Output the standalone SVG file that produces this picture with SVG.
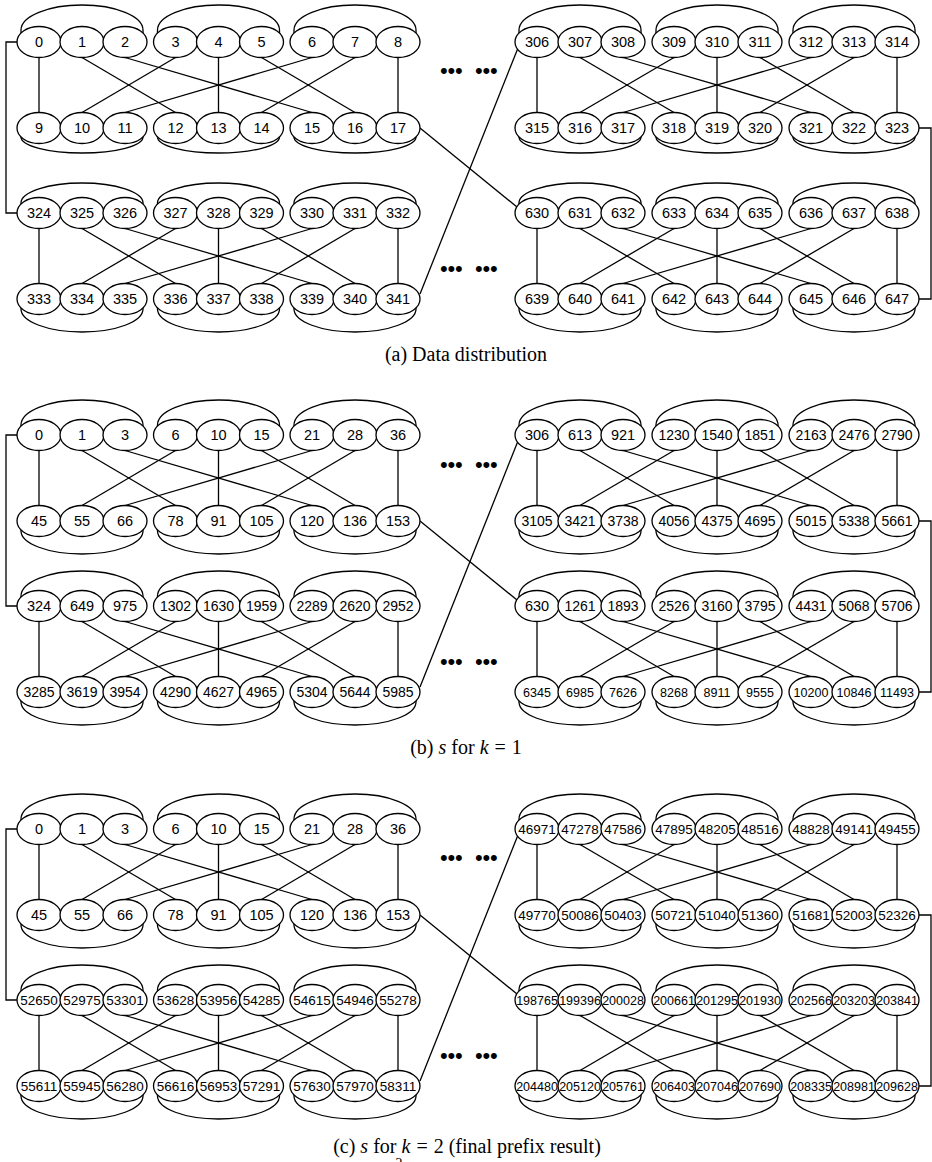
<svg xmlns="http://www.w3.org/2000/svg" xmlns:xlink="http://www.w3.org/1999/xlink" width="932" height="1162" viewBox="0 0 932 1162">
<style>
ellipse{fill:#fff;stroke:#000;stroke-width:1.3}
line,path{fill:none;stroke:#000;stroke-width:1.3}
text{font-family:"Liberation Sans",Arial,sans-serif;font-size:14.5px;text-anchor:middle;fill:#000}
.t4{font-size:14px}
.t5{font-size:13.5px}
.t6{font-size:12.5px}
.t7{font-size:12.5px}
.cap{font-family:"Liberation Serif","Times New Roman",serif;font-size:20px}
.dots{font-size:22px;text-anchor:start;letter-spacing:-0.2px}
</style>
<defs>
<g id="lnL">
<line x1="39" y1="15.5" x2="39" y2="70.5"/>
<line x1="82" y1="15.5" x2="175.5" y2="70.5"/>
<line x1="125" y1="15.5" x2="312" y2="70.5"/>
<line x1="175.5" y1="15.5" x2="82" y2="70.5"/>
<line x1="218.5" y1="15.5" x2="218.5" y2="70.5"/>
<line x1="261.5" y1="15.5" x2="355" y2="70.5"/>
<line x1="312" y1="15.5" x2="125" y2="70.5"/>
<line x1="355" y1="15.5" x2="261.5" y2="70.5"/>
<line x1="398" y1="15.5" x2="398" y2="70.5"/>
</g>
<g id="lnR">
<line x1="537" y1="15.5" x2="537" y2="70.5"/>
<line x1="580" y1="15.5" x2="674" y2="70.5"/>
<line x1="623" y1="15.5" x2="811" y2="70.5"/>
<line x1="674" y1="15.5" x2="580" y2="70.5"/>
<line x1="717" y1="15.5" x2="717" y2="70.5"/>
<line x1="760" y1="15.5" x2="854" y2="70.5"/>
<line x1="811" y1="15.5" x2="623" y2="70.5"/>
<line x1="854" y1="15.5" x2="760" y2="70.5"/>
<line x1="897" y1="15.5" x2="897" y2="70.5"/>
</g>
<g id="arT">
<path d="M21,-4V-10A61,25 0 0 1 143,-10V-4"/>
<path d="M157.5,-4V-10A61,25 0 0 1 279.5,-10V-4"/>
<path d="M294,-4V-10A61,25 0 0 1 416,-10V-4"/>
<path d="M519,-4V-10A61,25 0 0 1 641,-10V-4"/>
<path d="M656,-4V-10A61,25 0 0 1 778,-10V-4"/>
<path d="M793,-4V-10A61,25 0 0 1 915,-10V-4"/>
</g>
<g id="arT2">
<path d="M21,-4V-10A61,20 0 0 1 143,-10V-4"/>
<path d="M157.5,-4V-10A61,20 0 0 1 279.5,-10V-4"/>
<path d="M294,-4V-10A61,20 0 0 1 416,-10V-4"/>
<path d="M519,-4V-10A61,20 0 0 1 641,-10V-4"/>
<path d="M656,-4V-10A61,20 0 0 1 778,-10V-4"/>
<path d="M793,-4V-10A61,20 0 0 1 915,-10V-4"/>
</g>
<g id="arB">
<path d="M21,4V10A61,23 0 0 0 143,10V4"/>
<path d="M157.5,4V10A61,23 0 0 0 279.5,10V4"/>
<path d="M294,4V10A61,23 0 0 0 416,10V4"/>
<path d="M519,4V10A61,23 0 0 0 641,10V4"/>
<path d="M656,4V10A61,23 0 0 0 778,10V4"/>
<path d="M793,4V10A61,23 0 0 0 915,10V4"/>
</g>
<g id="arB2">
<path d="M21,4V9A61,16 0 0 0 143,9V4"/>
<path d="M157.5,4V9A61,16 0 0 0 279.5,9V4"/>
<path d="M294,4V9A61,16 0 0 0 416,9V4"/>
<path d="M519,4V9A61,16 0 0 0 641,9V4"/>
<path d="M656,4V9A61,16 0 0 0 778,9V4"/>
<path d="M793,4V9A61,16 0 0 0 915,9V4"/>
</g>
</defs>
<rect width="932" height="1162" fill="#fff"/>
<g id="connectors">
<use xlink:href="#arT" y="40"/><use xlink:href="#arB2" y="128"/><use xlink:href="#arT2" y="213"/><use xlink:href="#arB" y="299"/>
<use xlink:href="#lnL" y="42"/><use xlink:href="#lnL" y="213"/><use xlink:href="#lnR" y="42"/><use xlink:href="#lnR" y="213"/>
<path d="M17,42H6V213H17"/><path d="M919,128H931V299H919"/>
<line x1="420" y1="128" x2="517" y2="207"/><line x1="420" y1="294" x2="518" y2="48"/>
<use xlink:href="#arT" y="435"/><use xlink:href="#arB" y="521"/><use xlink:href="#arT" y="606"/><use xlink:href="#arB" y="692"/>
<use xlink:href="#lnL" y="435"/><use xlink:href="#lnL" y="606"/><use xlink:href="#lnR" y="435"/><use xlink:href="#lnR" y="606"/>
<path d="M17,435H6V606H17"/><path d="M919,521H931V692H919"/>
<line x1="420" y1="521" x2="517" y2="600"/><line x1="420" y1="687" x2="518" y2="441"/>
<use xlink:href="#arT" y="829"/><use xlink:href="#arB" y="915"/><use xlink:href="#arT" y="1000"/><use xlink:href="#arB" y="1086"/>
<use xlink:href="#lnL" y="829"/><use xlink:href="#lnL" y="1000"/><use xlink:href="#lnR" y="829"/><use xlink:href="#lnR" y="1000"/>
<path d="M17,829H6V1000H17"/><path d="M919,915H931V1086H919"/>
<line x1="420" y1="915" x2="517" y2="994"/><line x1="420" y1="1081" x2="518" y2="835"/>
</g>
<g id="panel-a">
<g id="a_0"><ellipse cx="39" cy="42" rx="22" ry="15.5"/><text x="39" y="47">0</text></g>
<g id="a_1"><ellipse cx="82" cy="42" rx="22" ry="15.5"/><text x="82" y="47">1</text></g>
<g id="a_2"><ellipse cx="125" cy="42" rx="22" ry="15.5"/><text x="125" y="47">2</text></g>
<g id="a_3"><ellipse cx="175.5" cy="42" rx="22" ry="15.5"/><text x="175.5" y="47">3</text></g>
<g id="a_4"><ellipse cx="218.5" cy="42" rx="22" ry="15.5"/><text x="218.5" y="47">4</text></g>
<g id="a_5"><ellipse cx="261.5" cy="42" rx="22" ry="15.5"/><text x="261.5" y="47">5</text></g>
<g id="a_6"><ellipse cx="312" cy="42" rx="22" ry="15.5"/><text x="312" y="47">6</text></g>
<g id="a_7"><ellipse cx="355" cy="42" rx="22" ry="15.5"/><text x="355" y="47">7</text></g>
<g id="a_8"><ellipse cx="398" cy="42" rx="22" ry="15.5"/><text x="398" y="47">8</text></g>
<g id="a_9"><ellipse cx="39" cy="128" rx="22" ry="15.5"/><text x="39" y="133">9</text></g>
<g id="a_10"><ellipse cx="82" cy="128" rx="22" ry="15.5"/><text x="82" y="133">10</text></g>
<g id="a_11"><ellipse cx="125" cy="128" rx="22" ry="15.5"/><text x="125" y="133">11</text></g>
<g id="a_12"><ellipse cx="175.5" cy="128" rx="22" ry="15.5"/><text x="175.5" y="133">12</text></g>
<g id="a_13"><ellipse cx="218.5" cy="128" rx="22" ry="15.5"/><text x="218.5" y="133">13</text></g>
<g id="a_14"><ellipse cx="261.5" cy="128" rx="22" ry="15.5"/><text x="261.5" y="133">14</text></g>
<g id="a_15"><ellipse cx="312" cy="128" rx="22" ry="15.5"/><text x="312" y="133">15</text></g>
<g id="a_16"><ellipse cx="355" cy="128" rx="22" ry="15.5"/><text x="355" y="133">16</text></g>
<g id="a_17"><ellipse cx="398" cy="128" rx="22" ry="15.5"/><text x="398" y="133">17</text></g>
<g id="a_324"><ellipse cx="39" cy="213" rx="22" ry="15.5"/><text x="39" y="218">324</text></g>
<g id="a_325"><ellipse cx="82" cy="213" rx="22" ry="15.5"/><text x="82" y="218">325</text></g>
<g id="a_326"><ellipse cx="125" cy="213" rx="22" ry="15.5"/><text x="125" y="218">326</text></g>
<g id="a_327"><ellipse cx="175.5" cy="213" rx="22" ry="15.5"/><text x="175.5" y="218">327</text></g>
<g id="a_328"><ellipse cx="218.5" cy="213" rx="22" ry="15.5"/><text x="218.5" y="218">328</text></g>
<g id="a_329"><ellipse cx="261.5" cy="213" rx="22" ry="15.5"/><text x="261.5" y="218">329</text></g>
<g id="a_330"><ellipse cx="312" cy="213" rx="22" ry="15.5"/><text x="312" y="218">330</text></g>
<g id="a_331"><ellipse cx="355" cy="213" rx="22" ry="15.5"/><text x="355" y="218">331</text></g>
<g id="a_332"><ellipse cx="398" cy="213" rx="22" ry="15.5"/><text x="398" y="218">332</text></g>
<g id="a_333"><ellipse cx="39" cy="299" rx="22" ry="15.5"/><text x="39" y="304">333</text></g>
<g id="a_334"><ellipse cx="82" cy="299" rx="22" ry="15.5"/><text x="82" y="304">334</text></g>
<g id="a_335"><ellipse cx="125" cy="299" rx="22" ry="15.5"/><text x="125" y="304">335</text></g>
<g id="a_336"><ellipse cx="175.5" cy="299" rx="22" ry="15.5"/><text x="175.5" y="304">336</text></g>
<g id="a_337"><ellipse cx="218.5" cy="299" rx="22" ry="15.5"/><text x="218.5" y="304">337</text></g>
<g id="a_338"><ellipse cx="261.5" cy="299" rx="22" ry="15.5"/><text x="261.5" y="304">338</text></g>
<g id="a_339"><ellipse cx="312" cy="299" rx="22" ry="15.5"/><text x="312" y="304">339</text></g>
<g id="a_340"><ellipse cx="355" cy="299" rx="22" ry="15.5"/><text x="355" y="304">340</text></g>
<g id="a_341"><ellipse cx="398" cy="299" rx="22" ry="15.5"/><text x="398" y="304">341</text></g>
<g id="a_306"><ellipse cx="537" cy="42" rx="22" ry="15.5"/><text x="537" y="47">306</text></g>
<g id="a_307"><ellipse cx="580" cy="42" rx="22" ry="15.5"/><text x="580" y="47">307</text></g>
<g id="a_308"><ellipse cx="623" cy="42" rx="22" ry="15.5"/><text x="623" y="47">308</text></g>
<g id="a_309"><ellipse cx="674" cy="42" rx="22" ry="15.5"/><text x="674" y="47">309</text></g>
<g id="a_310"><ellipse cx="717" cy="42" rx="22" ry="15.5"/><text x="717" y="47">310</text></g>
<g id="a_311"><ellipse cx="760" cy="42" rx="22" ry="15.5"/><text x="760" y="47">311</text></g>
<g id="a_312"><ellipse cx="811" cy="42" rx="22" ry="15.5"/><text x="811" y="47">312</text></g>
<g id="a_313"><ellipse cx="854" cy="42" rx="22" ry="15.5"/><text x="854" y="47">313</text></g>
<g id="a_314"><ellipse cx="897" cy="42" rx="22" ry="15.5"/><text x="897" y="47">314</text></g>
<g id="a_315"><ellipse cx="537" cy="128" rx="22" ry="15.5"/><text x="537" y="133">315</text></g>
<g id="a_316"><ellipse cx="580" cy="128" rx="22" ry="15.5"/><text x="580" y="133">316</text></g>
<g id="a_317"><ellipse cx="623" cy="128" rx="22" ry="15.5"/><text x="623" y="133">317</text></g>
<g id="a_318"><ellipse cx="674" cy="128" rx="22" ry="15.5"/><text x="674" y="133">318</text></g>
<g id="a_319"><ellipse cx="717" cy="128" rx="22" ry="15.5"/><text x="717" y="133">319</text></g>
<g id="a_320"><ellipse cx="760" cy="128" rx="22" ry="15.5"/><text x="760" y="133">320</text></g>
<g id="a_321"><ellipse cx="811" cy="128" rx="22" ry="15.5"/><text x="811" y="133">321</text></g>
<g id="a_322"><ellipse cx="854" cy="128" rx="22" ry="15.5"/><text x="854" y="133">322</text></g>
<g id="a_323"><ellipse cx="897" cy="128" rx="22" ry="15.5"/><text x="897" y="133">323</text></g>
<g id="a_630"><ellipse cx="537" cy="213" rx="22" ry="15.5"/><text x="537" y="218">630</text></g>
<g id="a_631"><ellipse cx="580" cy="213" rx="22" ry="15.5"/><text x="580" y="218">631</text></g>
<g id="a_632"><ellipse cx="623" cy="213" rx="22" ry="15.5"/><text x="623" y="218">632</text></g>
<g id="a_633"><ellipse cx="674" cy="213" rx="22" ry="15.5"/><text x="674" y="218">633</text></g>
<g id="a_634"><ellipse cx="717" cy="213" rx="22" ry="15.5"/><text x="717" y="218">634</text></g>
<g id="a_635"><ellipse cx="760" cy="213" rx="22" ry="15.5"/><text x="760" y="218">635</text></g>
<g id="a_636"><ellipse cx="811" cy="213" rx="22" ry="15.5"/><text x="811" y="218">636</text></g>
<g id="a_637"><ellipse cx="854" cy="213" rx="22" ry="15.5"/><text x="854" y="218">637</text></g>
<g id="a_638"><ellipse cx="897" cy="213" rx="22" ry="15.5"/><text x="897" y="218">638</text></g>
<g id="a_639"><ellipse cx="537" cy="299" rx="22" ry="15.5"/><text x="537" y="304">639</text></g>
<g id="a_640"><ellipse cx="580" cy="299" rx="22" ry="15.5"/><text x="580" y="304">640</text></g>
<g id="a_641"><ellipse cx="623" cy="299" rx="22" ry="15.5"/><text x="623" y="304">641</text></g>
<g id="a_642"><ellipse cx="674" cy="299" rx="22" ry="15.5"/><text x="674" y="304">642</text></g>
<g id="a_643"><ellipse cx="717" cy="299" rx="22" ry="15.5"/><text x="717" y="304">643</text></g>
<g id="a_644"><ellipse cx="760" cy="299" rx="22" ry="15.5"/><text x="760" y="304">644</text></g>
<g id="a_645"><ellipse cx="811" cy="299" rx="22" ry="15.5"/><text x="811" y="304">645</text></g>
<g id="a_646"><ellipse cx="854" cy="299" rx="22" ry="15.5"/><text x="854" y="304">646</text></g>
<g id="a_647"><ellipse cx="897" cy="299" rx="22" ry="15.5"/><text x="897" y="304">647</text></g>
<text class="dots" x="440" y="78">•••</text><text class="dots" x="475" y="78">•••</text>
<text class="dots" x="440" y="276">•••</text><text class="dots" x="475" y="276">•••</text>
<text class="cap" x="466" y="361">(a) Data distribution</text>
</g>
<g id="panel-b">
<g id="b_0"><ellipse cx="39" cy="435" rx="22" ry="15.5"/><text x="39" y="440">0</text></g>
<g id="b_1"><ellipse cx="82" cy="435" rx="22" ry="15.5"/><text x="82" y="440">1</text></g>
<g id="b_3"><ellipse cx="125" cy="435" rx="22" ry="15.5"/><text x="125" y="440">3</text></g>
<g id="b_6"><ellipse cx="175.5" cy="435" rx="22" ry="15.5"/><text x="175.5" y="440">6</text></g>
<g id="b_10"><ellipse cx="218.5" cy="435" rx="22" ry="15.5"/><text x="218.5" y="440">10</text></g>
<g id="b_15"><ellipse cx="261.5" cy="435" rx="22" ry="15.5"/><text x="261.5" y="440">15</text></g>
<g id="b_21"><ellipse cx="312" cy="435" rx="22" ry="15.5"/><text x="312" y="440">21</text></g>
<g id="b_28"><ellipse cx="355" cy="435" rx="22" ry="15.5"/><text x="355" y="440">28</text></g>
<g id="b_36"><ellipse cx="398" cy="435" rx="22" ry="15.5"/><text x="398" y="440">36</text></g>
<g id="b_45"><ellipse cx="39" cy="521" rx="22" ry="15.5"/><text x="39" y="526">45</text></g>
<g id="b_55"><ellipse cx="82" cy="521" rx="22" ry="15.5"/><text x="82" y="526">55</text></g>
<g id="b_66"><ellipse cx="125" cy="521" rx="22" ry="15.5"/><text x="125" y="526">66</text></g>
<g id="b_78"><ellipse cx="175.5" cy="521" rx="22" ry="15.5"/><text x="175.5" y="526">78</text></g>
<g id="b_91"><ellipse cx="218.5" cy="521" rx="22" ry="15.5"/><text x="218.5" y="526">91</text></g>
<g id="b_105"><ellipse cx="261.5" cy="521" rx="22" ry="15.5"/><text x="261.5" y="526">105</text></g>
<g id="b_120"><ellipse cx="312" cy="521" rx="22" ry="15.5"/><text x="312" y="526">120</text></g>
<g id="b_136"><ellipse cx="355" cy="521" rx="22" ry="15.5"/><text x="355" y="526">136</text></g>
<g id="b_153"><ellipse cx="398" cy="521" rx="22" ry="15.5"/><text x="398" y="526">153</text></g>
<g id="b_324"><ellipse cx="39" cy="606" rx="22" ry="15.5"/><text x="39" y="611">324</text></g>
<g id="b_649"><ellipse cx="82" cy="606" rx="22" ry="15.5"/><text x="82" y="611">649</text></g>
<g id="b_975"><ellipse cx="125" cy="606" rx="22" ry="15.5"/><text x="125" y="611">975</text></g>
<g id="b_1302"><ellipse cx="175.5" cy="606" rx="22" ry="15.5"/><text class="t4" x="175.5" y="611">1302</text></g>
<g id="b_1630"><ellipse cx="218.5" cy="606" rx="22" ry="15.5"/><text class="t4" x="218.5" y="611">1630</text></g>
<g id="b_1959"><ellipse cx="261.5" cy="606" rx="22" ry="15.5"/><text class="t4" x="261.5" y="611">1959</text></g>
<g id="b_2289"><ellipse cx="312" cy="606" rx="22" ry="15.5"/><text class="t4" x="312" y="611">2289</text></g>
<g id="b_2620"><ellipse cx="355" cy="606" rx="22" ry="15.5"/><text class="t4" x="355" y="611">2620</text></g>
<g id="b_2952"><ellipse cx="398" cy="606" rx="22" ry="15.5"/><text class="t4" x="398" y="611">2952</text></g>
<g id="b_3285"><ellipse cx="39" cy="692" rx="22" ry="15.5"/><text class="t4" x="39" y="697">3285</text></g>
<g id="b_3619"><ellipse cx="82" cy="692" rx="22" ry="15.5"/><text class="t4" x="82" y="697">3619</text></g>
<g id="b_3954"><ellipse cx="125" cy="692" rx="22" ry="15.5"/><text class="t4" x="125" y="697">3954</text></g>
<g id="b_4290"><ellipse cx="175.5" cy="692" rx="22" ry="15.5"/><text class="t4" x="175.5" y="697">4290</text></g>
<g id="b_4627"><ellipse cx="218.5" cy="692" rx="22" ry="15.5"/><text class="t4" x="218.5" y="697">4627</text></g>
<g id="b_4965"><ellipse cx="261.5" cy="692" rx="22" ry="15.5"/><text class="t4" x="261.5" y="697">4965</text></g>
<g id="b_5304"><ellipse cx="312" cy="692" rx="22" ry="15.5"/><text class="t4" x="312" y="697">5304</text></g>
<g id="b_5644"><ellipse cx="355" cy="692" rx="22" ry="15.5"/><text class="t4" x="355" y="697">5644</text></g>
<g id="b_5985"><ellipse cx="398" cy="692" rx="22" ry="15.5"/><text class="t4" x="398" y="697">5985</text></g>
<g id="b_306"><ellipse cx="537" cy="435" rx="22" ry="15.5"/><text x="537" y="440">306</text></g>
<g id="b_613"><ellipse cx="580" cy="435" rx="22" ry="15.5"/><text x="580" y="440">613</text></g>
<g id="b_921"><ellipse cx="623" cy="435" rx="22" ry="15.5"/><text x="623" y="440">921</text></g>
<g id="b_1230"><ellipse cx="674" cy="435" rx="22" ry="15.5"/><text class="t4" x="674" y="440">1230</text></g>
<g id="b_1540"><ellipse cx="717" cy="435" rx="22" ry="15.5"/><text class="t4" x="717" y="440">1540</text></g>
<g id="b_1851"><ellipse cx="760" cy="435" rx="22" ry="15.5"/><text class="t4" x="760" y="440">1851</text></g>
<g id="b_2163"><ellipse cx="811" cy="435" rx="22" ry="15.5"/><text class="t4" x="811" y="440">2163</text></g>
<g id="b_2476"><ellipse cx="854" cy="435" rx="22" ry="15.5"/><text class="t4" x="854" y="440">2476</text></g>
<g id="b_2790"><ellipse cx="897" cy="435" rx="22" ry="15.5"/><text class="t4" x="897" y="440">2790</text></g>
<g id="b_3105"><ellipse cx="537" cy="521" rx="22" ry="15.5"/><text class="t4" x="537" y="526">3105</text></g>
<g id="b_3421"><ellipse cx="580" cy="521" rx="22" ry="15.5"/><text class="t4" x="580" y="526">3421</text></g>
<g id="b_3738"><ellipse cx="623" cy="521" rx="22" ry="15.5"/><text class="t4" x="623" y="526">3738</text></g>
<g id="b_4056"><ellipse cx="674" cy="521" rx="22" ry="15.5"/><text class="t4" x="674" y="526">4056</text></g>
<g id="b_4375"><ellipse cx="717" cy="521" rx="22" ry="15.5"/><text class="t4" x="717" y="526">4375</text></g>
<g id="b_4695"><ellipse cx="760" cy="521" rx="22" ry="15.5"/><text class="t4" x="760" y="526">4695</text></g>
<g id="b_5015"><ellipse cx="811" cy="521" rx="22" ry="15.5"/><text class="t4" x="811" y="526">5015</text></g>
<g id="b_5338"><ellipse cx="854" cy="521" rx="22" ry="15.5"/><text class="t4" x="854" y="526">5338</text></g>
<g id="b_5661"><ellipse cx="897" cy="521" rx="22" ry="15.5"/><text class="t4" x="897" y="526">5661</text></g>
<g id="b_630"><ellipse cx="537" cy="606" rx="22" ry="15.5"/><text x="537" y="611">630</text></g>
<g id="b_1261"><ellipse cx="580" cy="606" rx="22" ry="15.5"/><text class="t4" x="580" y="611">1261</text></g>
<g id="b_1893"><ellipse cx="623" cy="606" rx="22" ry="15.5"/><text class="t4" x="623" y="611">1893</text></g>
<g id="b_2526"><ellipse cx="674" cy="606" rx="22" ry="15.5"/><text class="t4" x="674" y="611">2526</text></g>
<g id="b_3160"><ellipse cx="717" cy="606" rx="22" ry="15.5"/><text class="t4" x="717" y="611">3160</text></g>
<g id="b_3795"><ellipse cx="760" cy="606" rx="22" ry="15.5"/><text class="t4" x="760" y="611">3795</text></g>
<g id="b_4431"><ellipse cx="811" cy="606" rx="22" ry="15.5"/><text class="t4" x="811" y="611">4431</text></g>
<g id="b_5068"><ellipse cx="854" cy="606" rx="22" ry="15.5"/><text class="t4" x="854" y="611">5068</text></g>
<g id="b_5706"><ellipse cx="897" cy="606" rx="22" ry="15.5"/><text class="t4" x="897" y="611">5706</text></g>
<g id="b_6345"><ellipse cx="537" cy="692" rx="22" ry="15.5"/><text class="t6" x="537" y="696.5">6345</text></g>
<g id="b_6985"><ellipse cx="580" cy="692" rx="22" ry="15.5"/><text class="t6" x="580" y="696.5">6985</text></g>
<g id="b_7626"><ellipse cx="623" cy="692" rx="22" ry="15.5"/><text class="t6" x="623" y="696.5">7626</text></g>
<g id="b_8268"><ellipse cx="674" cy="692" rx="22" ry="15.5"/><text class="t6" x="674" y="696.5">8268</text></g>
<g id="b_8911"><ellipse cx="717" cy="692" rx="22" ry="15.5"/><text class="t6" x="717" y="696.5">8911</text></g>
<g id="b_9555"><ellipse cx="760" cy="692" rx="22" ry="15.5"/><text class="t6" x="760" y="696.5">9555</text></g>
<g id="b_10200"><ellipse cx="811" cy="692" rx="22" ry="15.5"/><text class="t6" x="811" y="696.5">10200</text></g>
<g id="b_10846"><ellipse cx="854" cy="692" rx="22" ry="15.5"/><text class="t6" x="854" y="696.5">10846</text></g>
<g id="b_11493"><ellipse cx="897" cy="692" rx="22" ry="15.5"/><text class="t6" x="897" y="696.5">11493</text></g>
<text class="dots" x="440" y="472">•••</text><text class="dots" x="475" y="472">•••</text>
<text class="dots" x="440" y="669">•••</text><text class="dots" x="475" y="669">•••</text>
<text class="cap" x="466" y="754">(b) <tspan font-style="italic">s</tspan> for <tspan font-style="italic">k</tspan><tspan dx="6">=</tspan><tspan dx="6">1</tspan></text>
</g>
<g id="panel-c">
<g id="c_0"><ellipse cx="39" cy="829" rx="22" ry="15.5"/><text x="39" y="834">0</text></g>
<g id="c_1"><ellipse cx="82" cy="829" rx="22" ry="15.5"/><text x="82" y="834">1</text></g>
<g id="c_3"><ellipse cx="125" cy="829" rx="22" ry="15.5"/><text x="125" y="834">3</text></g>
<g id="c_6"><ellipse cx="175.5" cy="829" rx="22" ry="15.5"/><text x="175.5" y="834">6</text></g>
<g id="c_10"><ellipse cx="218.5" cy="829" rx="22" ry="15.5"/><text x="218.5" y="834">10</text></g>
<g id="c_15"><ellipse cx="261.5" cy="829" rx="22" ry="15.5"/><text x="261.5" y="834">15</text></g>
<g id="c_21"><ellipse cx="312" cy="829" rx="22" ry="15.5"/><text x="312" y="834">21</text></g>
<g id="c_28"><ellipse cx="355" cy="829" rx="22" ry="15.5"/><text x="355" y="834">28</text></g>
<g id="c_36"><ellipse cx="398" cy="829" rx="22" ry="15.5"/><text x="398" y="834">36</text></g>
<g id="c_45"><ellipse cx="39" cy="915" rx="22" ry="15.5"/><text x="39" y="920">45</text></g>
<g id="c_55"><ellipse cx="82" cy="915" rx="22" ry="15.5"/><text x="82" y="920">55</text></g>
<g id="c_66"><ellipse cx="125" cy="915" rx="22" ry="15.5"/><text x="125" y="920">66</text></g>
<g id="c_78"><ellipse cx="175.5" cy="915" rx="22" ry="15.5"/><text x="175.5" y="920">78</text></g>
<g id="c_91"><ellipse cx="218.5" cy="915" rx="22" ry="15.5"/><text x="218.5" y="920">91</text></g>
<g id="c_105"><ellipse cx="261.5" cy="915" rx="22" ry="15.5"/><text x="261.5" y="920">105</text></g>
<g id="c_120"><ellipse cx="312" cy="915" rx="22" ry="15.5"/><text x="312" y="920">120</text></g>
<g id="c_136"><ellipse cx="355" cy="915" rx="22" ry="15.5"/><text x="355" y="920">136</text></g>
<g id="c_153"><ellipse cx="398" cy="915" rx="22" ry="15.5"/><text x="398" y="920">153</text></g>
<g id="c_52650"><ellipse cx="39" cy="1000" rx="22" ry="15.5"/><text class="t5" x="39" y="1005">52650</text></g>
<g id="c_52975"><ellipse cx="82" cy="1000" rx="22" ry="15.5"/><text class="t5" x="82" y="1005">52975</text></g>
<g id="c_53301"><ellipse cx="125" cy="1000" rx="22" ry="15.5"/><text class="t5" x="125" y="1005">53301</text></g>
<g id="c_53628"><ellipse cx="175.5" cy="1000" rx="22" ry="15.5"/><text class="t5" x="175.5" y="1005">53628</text></g>
<g id="c_53956"><ellipse cx="218.5" cy="1000" rx="22" ry="15.5"/><text class="t5" x="218.5" y="1005">53956</text></g>
<g id="c_54285"><ellipse cx="261.5" cy="1000" rx="22" ry="15.5"/><text class="t5" x="261.5" y="1005">54285</text></g>
<g id="c_54615"><ellipse cx="312" cy="1000" rx="22" ry="15.5"/><text class="t5" x="312" y="1005">54615</text></g>
<g id="c_54946"><ellipse cx="355" cy="1000" rx="22" ry="15.5"/><text class="t5" x="355" y="1005">54946</text></g>
<g id="c_55278"><ellipse cx="398" cy="1000" rx="22" ry="15.5"/><text class="t5" x="398" y="1005">55278</text></g>
<g id="c_55611"><ellipse cx="39" cy="1086" rx="22" ry="15.5"/><text class="t5" x="39" y="1091">55611</text></g>
<g id="c_55945"><ellipse cx="82" cy="1086" rx="22" ry="15.5"/><text class="t5" x="82" y="1091">55945</text></g>
<g id="c_56280"><ellipse cx="125" cy="1086" rx="22" ry="15.5"/><text class="t5" x="125" y="1091">56280</text></g>
<g id="c_56616"><ellipse cx="175.5" cy="1086" rx="22" ry="15.5"/><text class="t5" x="175.5" y="1091">56616</text></g>
<g id="c_56953"><ellipse cx="218.5" cy="1086" rx="22" ry="15.5"/><text class="t5" x="218.5" y="1091">56953</text></g>
<g id="c_57291"><ellipse cx="261.5" cy="1086" rx="22" ry="15.5"/><text class="t5" x="261.5" y="1091">57291</text></g>
<g id="c_57630"><ellipse cx="312" cy="1086" rx="22" ry="15.5"/><text class="t5" x="312" y="1091">57630</text></g>
<g id="c_57970"><ellipse cx="355" cy="1086" rx="22" ry="15.5"/><text class="t5" x="355" y="1091">57970</text></g>
<g id="c_58311"><ellipse cx="398" cy="1086" rx="22" ry="15.5"/><text class="t5" x="398" y="1091">58311</text></g>
<g id="c_46971"><ellipse cx="537" cy="829" rx="22" ry="15.5"/><text class="t5" x="537" y="834">46971</text></g>
<g id="c_47278"><ellipse cx="580" cy="829" rx="22" ry="15.5"/><text class="t5" x="580" y="834">47278</text></g>
<g id="c_47586"><ellipse cx="623" cy="829" rx="22" ry="15.5"/><text class="t5" x="623" y="834">47586</text></g>
<g id="c_47895"><ellipse cx="674" cy="829" rx="22" ry="15.5"/><text class="t5" x="674" y="834">47895</text></g>
<g id="c_48205"><ellipse cx="717" cy="829" rx="22" ry="15.5"/><text class="t5" x="717" y="834">48205</text></g>
<g id="c_48516"><ellipse cx="760" cy="829" rx="22" ry="15.5"/><text class="t5" x="760" y="834">48516</text></g>
<g id="c_48828"><ellipse cx="811" cy="829" rx="22" ry="15.5"/><text class="t5" x="811" y="834">48828</text></g>
<g id="c_49141"><ellipse cx="854" cy="829" rx="22" ry="15.5"/><text class="t5" x="854" y="834">49141</text></g>
<g id="c_49455"><ellipse cx="897" cy="829" rx="22" ry="15.5"/><text class="t5" x="897" y="834">49455</text></g>
<g id="c_49770"><ellipse cx="537" cy="915" rx="22" ry="15.5"/><text class="t5" x="537" y="920">49770</text></g>
<g id="c_50086"><ellipse cx="580" cy="915" rx="22" ry="15.5"/><text class="t5" x="580" y="920">50086</text></g>
<g id="c_50403"><ellipse cx="623" cy="915" rx="22" ry="15.5"/><text class="t5" x="623" y="920">50403</text></g>
<g id="c_50721"><ellipse cx="674" cy="915" rx="22" ry="15.5"/><text class="t5" x="674" y="920">50721</text></g>
<g id="c_51040"><ellipse cx="717" cy="915" rx="22" ry="15.5"/><text class="t5" x="717" y="920">51040</text></g>
<g id="c_51360"><ellipse cx="760" cy="915" rx="22" ry="15.5"/><text class="t5" x="760" y="920">51360</text></g>
<g id="c_51681"><ellipse cx="811" cy="915" rx="22" ry="15.5"/><text class="t5" x="811" y="920">51681</text></g>
<g id="c_52003"><ellipse cx="854" cy="915" rx="22" ry="15.5"/><text class="t5" x="854" y="920">52003</text></g>
<g id="c_52326"><ellipse cx="897" cy="915" rx="22" ry="15.5"/><text class="t5" x="897" y="920">52326</text></g>
<g id="c_198765"><ellipse cx="537" cy="1000" rx="22" ry="15.5"/><text class="t7" x="537" y="1004.5">198765</text></g>
<g id="c_199396"><ellipse cx="580" cy="1000" rx="22" ry="15.5"/><text class="t7" x="580" y="1004.5">199396</text></g>
<g id="c_200028"><ellipse cx="623" cy="1000" rx="22" ry="15.5"/><text class="t7" x="623" y="1004.5">200028</text></g>
<g id="c_200661"><ellipse cx="674" cy="1000" rx="22" ry="15.5"/><text class="t7" x="674" y="1004.5">200661</text></g>
<g id="c_201295"><ellipse cx="717" cy="1000" rx="22" ry="15.5"/><text class="t7" x="717" y="1004.5">201295</text></g>
<g id="c_201930"><ellipse cx="760" cy="1000" rx="22" ry="15.5"/><text class="t7" x="760" y="1004.5">201930</text></g>
<g id="c_202566"><ellipse cx="811" cy="1000" rx="22" ry="15.5"/><text class="t7" x="811" y="1004.5">202566</text></g>
<g id="c_203203"><ellipse cx="854" cy="1000" rx="22" ry="15.5"/><text class="t7" x="854" y="1004.5">203203</text></g>
<g id="c_203841"><ellipse cx="897" cy="1000" rx="22" ry="15.5"/><text class="t7" x="897" y="1004.5">203841</text></g>
<g id="c_204480"><ellipse cx="537" cy="1086" rx="22" ry="15.5"/><text class="t7" x="537" y="1090.5">204480</text></g>
<g id="c_205120"><ellipse cx="580" cy="1086" rx="22" ry="15.5"/><text class="t7" x="580" y="1090.5">205120</text></g>
<g id="c_205761"><ellipse cx="623" cy="1086" rx="22" ry="15.5"/><text class="t7" x="623" y="1090.5">205761</text></g>
<g id="c_206403"><ellipse cx="674" cy="1086" rx="22" ry="15.5"/><text class="t7" x="674" y="1090.5">206403</text></g>
<g id="c_207046"><ellipse cx="717" cy="1086" rx="22" ry="15.5"/><text class="t7" x="717" y="1090.5">207046</text></g>
<g id="c_207690"><ellipse cx="760" cy="1086" rx="22" ry="15.5"/><text class="t7" x="760" y="1090.5">207690</text></g>
<g id="c_208335"><ellipse cx="811" cy="1086" rx="22" ry="15.5"/><text class="t7" x="811" y="1090.5">208335</text></g>
<g id="c_208981"><ellipse cx="854" cy="1086" rx="22" ry="15.5"/><text class="t7" x="854" y="1090.5">208981</text></g>
<g id="c_209628"><ellipse cx="897" cy="1086" rx="22" ry="15.5"/><text class="t7" x="897" y="1090.5">209628</text></g>
<text class="dots" x="440" y="865">•••</text><text class="dots" x="475" y="865">•••</text>
<text class="dots" x="440" y="1063">•••</text><text class="dots" x="475" y="1063">•••</text>
<text class="cap" x="467" y="1153">(c) <tspan font-style="italic">s</tspan> for <tspan font-style="italic">k</tspan><tspan dx="6">=</tspan><tspan dx="6">2</tspan> (final prefix result)</text>
<text class="cap" x="399" y="1168" style="font-size:14px">2</text>
</g>
</svg>
